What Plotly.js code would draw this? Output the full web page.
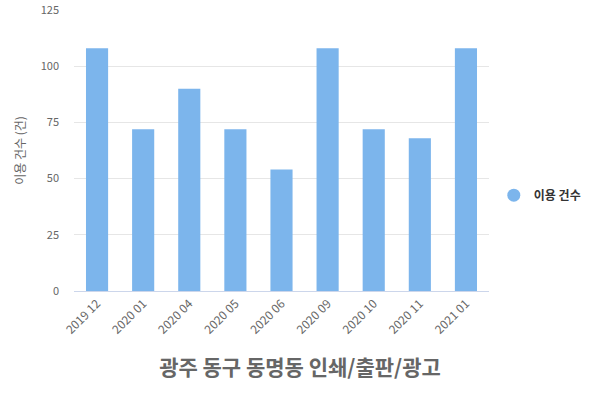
<!DOCTYPE html>
<html>
<head>
<meta charset="utf-8">
<script src="https://cdn.plot.ly/plotly-3.0.1.min.js"></script>
<style>
  html, body { margin: 0; padding: 0; background: #fff; }
  #chart { width: 600px; height: 400px; }
</style>
</head>
<body>
<div id="chart"></div>
<script>
// 월별 이용 건수
let months = ["2019 12", "2020 01", "2020 04", "2020 05", "2020 06", "2020 09", "2020 10", "2020 11", "2021 01"];
let counts = [108, 72, 90, 72, 54, 108, 72, 68, 108];
let series_name = "이용 건수";
let chart_title = "광주 동구 동명동 인쇄/출판/광고";
let y_title = "이용 건수 (건)";
let y_ticks = [0, 25, 50, 75, 100, 125];

let font_kr = "'Noto Sans CJK KR', 'Noto Sans', sans-serif";
let bar_color = "#7cb5ec";

let data = [];
data.push({
    x: months, y: counts, type: "bar", name: series_name,
    marker: { color: bar_color }, showlegend: false,
    hoverinfo: "x+y"
});
// legend entry drawn as a circle, like the original
data.push({
    x: [null], y: [null], type: "scatter", mode: "markers", name: series_name,
    marker: { color: bar_color, size: 13, symbol: "circle" }
});

let layout = {
    width: 600,
    height: 400,
    margin: { l: 74, r: 111, t: 10, b: 109, autoexpand: false },
    paper_bgcolor: "#fff",
    plot_bgcolor: "#fff",
    font: { family: font_kr, color: "#666", size: 11 },
    bargap: 0.52,
    title: {
        text: chart_title,
        font: { family: font_kr, size: 21, color: "#666", weight: "bold" },
        xref: "container", x: 0.5, xanchor: "center",
        yref: "container", y: 0.08, yanchor: "middle"
    },
    xaxis: {
        type: "category",
        tickangle: -45,
        tickfont: { size: 12, color: "#666" },
        showgrid: false,
        showline: true,
        linecolor: "#ccd6eb",
        linewidth: 1,
        ticks: "",
        fixedrange: true
    },
    yaxis: {
        range: [0, 125],
        tickvals: y_ticks,
        ticktext: y_ticks.map(String),
        tickfont: { size: 11, color: "#666" },
        gridcolor: "#e6e6e6",
        gridwidth: 1,
        zeroline: false,
        showline: false,
        ticks: "",
        ticklabelstandoff: 14,
        title: { text: y_title, font: { size: 12, color: "#666" }, standoff: 12 },
        fixedrange: true
    },
    showlegend: true,
    legend: {
        xref: "container", x: 0.823, xanchor: "left",
        yref: "container", y: 0.512, yanchor: "middle",
        font: { family: font_kr, size: 12, color: "#333", weight: "bold" },
        bgcolor: "rgba(0,0,0,0)",
        itemwidth: 30
    }
};

Plotly.newPlot("chart", data, layout, { displayModeBar: false });
</script>
</body>
</html>
